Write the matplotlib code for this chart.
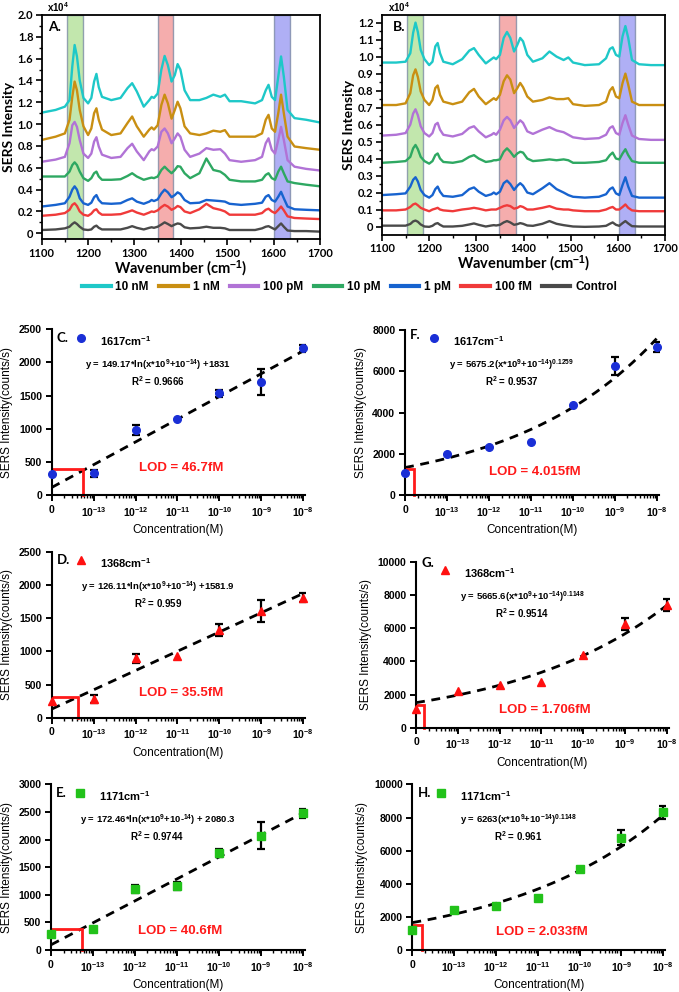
import numpy as np
import matplotlib
matplotlib.use('Agg')
import matplotlib.pyplot as plt
from matplotlib.lines import Line2D

plt.rcParams['font.family'] = ['Liberation Sans', 'DejaVu Sans']
plt.rcParams['font.weight'] = 'bold'
plt.rcParams['mathtext.fontset'] = 'custom'
plt.rcParams['mathtext.rm'] = 'Liberation Sans:bold'
plt.rcParams['mathtext.bf'] = 'Liberation Sans:bold'
plt.rcParams['mathtext.default'] = 'bf'

# ---------------- spectra (x10^4 counts) ----------------
wn = [1100, 1130, 1150, 1160, 1166, 1171, 1176, 1182, 1190, 1200,
      1207, 1213, 1218, 1223, 1230, 1250, 1270, 1285, 1295, 1305,
      1320, 1332, 1337, 1342, 1350, 1358, 1365, 1372, 1380, 1387,
      1393, 1399, 1408, 1420, 1440, 1455, 1470, 1485, 1495, 1505,
      1530, 1560, 1575, 1583, 1589, 1596, 1603, 1610, 1616, 1622,
      1630, 1645, 1670, 1700]

series_labels = ['10 nM', '1 nM', '100 pM', '10 pM', '1 pM', '100 fM', 'Control']
series_colors = ['#1ec8c8', '#c98f12', '#b173d6', '#2ea862', '#1763cf', '#f03a3a', '#4a4a4a']

a_10nM = [1.105, 1.13, 1.16, 1.22, 1.53, 1.725, 1.62, 1.40, 1.24, 1.19,
          1.24, 1.39, 1.46, 1.34, 1.25, 1.22, 1.24, 1.33, 1.375, 1.30,
          1.16, 1.22, 1.25, 1.24, 1.28, 1.50, 1.625, 1.54, 1.39, 1.45,
          1.55, 1.50, 1.31, 1.22, 1.22, 1.24, 1.27, 1.25, 1.27, 1.21,
          1.21, 1.19, 1.22, 1.31, 1.36, 1.25, 1.22, 1.435, 1.62, 1.435,
          1.13, 1.055, 1.04, 1.015]
a_1nM = [0.855, 0.885, 0.915, 1.04, 1.25, 1.39, 1.31, 1.13, 0.98, 0.90,
         0.96, 1.10, 1.145, 1.04, 0.95, 0.90, 0.915, 1.01, 1.07, 0.98,
         0.885, 0.95, 0.97, 0.95, 0.99, 1.175, 1.27, 1.19, 1.05, 1.13,
         1.205, 1.145, 0.98, 0.915, 0.90, 0.915, 0.94, 0.93, 0.945, 0.885,
         0.885, 0.885, 0.915, 1.04, 1.085, 0.96, 0.93, 1.10, 1.27, 1.10,
         0.885, 0.795, 0.78, 0.765]
a_100pM = [0.655, 0.675, 0.70, 0.825, 0.99, 1.02, 0.975, 0.855, 0.73, 0.69,
           0.73, 0.84, 0.88, 0.795, 0.72, 0.69, 0.70, 0.78, 0.82, 0.75,
           0.67, 0.75, 0.77, 0.76, 0.795, 0.93, 0.96, 0.915, 0.825, 0.87,
           0.915, 0.885, 0.765, 0.70, 0.73, 0.78, 0.765, 0.77, 0.73, 0.67,
           0.655, 0.67, 0.70, 0.825, 0.87, 0.765, 0.73, 0.855, 0.975, 0.855,
           0.67, 0.61, 0.59, 0.575]
a_10pM = [0.52, 0.52, 0.52, 0.565, 0.625, 0.65, 0.625, 0.565, 0.505, 0.48,
          0.505, 0.55, 0.565, 0.52, 0.49, 0.49, 0.495, 0.525, 0.55, 0.52,
          0.49, 0.505, 0.51, 0.505, 0.52, 0.58, 0.61, 0.58, 0.55, 0.58,
          0.615, 0.61, 0.55, 0.505, 0.55, 0.685, 0.58, 0.565, 0.535, 0.49,
          0.475, 0.475, 0.49, 0.535, 0.55, 0.505, 0.49, 0.565, 0.61, 0.55,
          0.475, 0.46, 0.445, 0.43]
a_1pM = [0.245, 0.26, 0.275, 0.335, 0.40, 0.43, 0.40, 0.32, 0.275, 0.26,
         0.28, 0.33, 0.35, 0.305, 0.275, 0.27, 0.275, 0.305, 0.32, 0.29,
         0.27, 0.29, 0.305, 0.295, 0.31, 0.365, 0.40, 0.375, 0.33, 0.35,
         0.375, 0.36, 0.305, 0.275, 0.28, 0.305, 0.30, 0.295, 0.29, 0.27,
         0.26, 0.27, 0.28, 0.335, 0.35, 0.305, 0.29, 0.335, 0.38, 0.32,
         0.245, 0.22, 0.215, 0.21]
a_100fM = [0.16, 0.17, 0.185, 0.215, 0.26, 0.275, 0.25, 0.20, 0.17, 0.16,
           0.18, 0.21, 0.22, 0.19, 0.17, 0.17, 0.175, 0.195, 0.21, 0.19,
           0.17, 0.19, 0.20, 0.195, 0.21, 0.24, 0.26, 0.245, 0.215, 0.23,
           0.25, 0.24, 0.20, 0.185, 0.22, 0.27, 0.23, 0.215, 0.20, 0.17,
           0.17, 0.17, 0.185, 0.215, 0.225, 0.20, 0.185, 0.215, 0.245, 0.21,
           0.155, 0.14, 0.135, 0.13]
a_control = [0.03, 0.035, 0.045, 0.06, 0.085, 0.10, 0.085, 0.06, 0.035, 0.03,
             0.035, 0.06, 0.07, 0.05, 0.035, 0.035, 0.035, 0.05, 0.065, 0.05,
             0.035, 0.05, 0.055, 0.05, 0.06, 0.08, 0.10, 0.085, 0.065, 0.08,
             0.09, 0.085, 0.055, 0.045, 0.05, 0.06, 0.05, 0.05, 0.045, 0.03,
             0.03, 0.03, 0.045, 0.06, 0.065, 0.05, 0.035, 0.065, 0.09, 0.06,
             0.025, 0.02, 0.02, 0.015]

b_10nM = [0.965, 0.965, 0.97, 1.02, 1.14, 1.20, 1.145, 1.04, 0.985, 0.95,
          0.97, 1.06, 1.08, 1.02, 0.97, 0.955, 0.985, 1.035, 1.05, 1.01,
          0.96, 0.985, 0.995, 0.985, 1.01, 1.11, 1.145, 1.11, 1.03, 1.07,
          1.11, 1.09, 1.01, 0.97, 0.99, 1.03, 1.00, 0.98, 0.995, 0.965,
          0.95, 0.955, 0.99, 1.045, 1.055, 1.01, 1.00, 1.12, 1.18, 1.11,
          0.98, 0.955, 0.95, 0.95]
b_1nM = [0.715, 0.715, 0.725, 0.785, 0.89, 0.925, 0.88, 0.795, 0.745, 0.715,
         0.745, 0.815, 0.83, 0.775, 0.735, 0.72, 0.735, 0.79, 0.81, 0.765,
         0.72, 0.745, 0.755, 0.745, 0.775, 0.855, 0.89, 0.865, 0.785, 0.815,
         0.845, 0.82, 0.765, 0.735, 0.745, 0.76, 0.75, 0.75, 0.755, 0.72,
         0.71, 0.715, 0.735, 0.80, 0.82, 0.765, 0.755, 0.845, 0.90, 0.835,
         0.735, 0.715, 0.715, 0.715]
b_100pM = [0.535, 0.54, 0.55, 0.60, 0.665, 0.69, 0.655, 0.59, 0.55, 0.53,
           0.55, 0.60, 0.61, 0.57, 0.54, 0.53, 0.545, 0.58, 0.59, 0.56,
           0.525, 0.54, 0.55, 0.54, 0.57, 0.625, 0.645, 0.625, 0.58, 0.605,
           0.625, 0.61, 0.56, 0.545, 0.57, 0.585, 0.565, 0.555, 0.54, 0.525,
           0.515, 0.52, 0.54, 0.58, 0.59, 0.55, 0.54, 0.61, 0.655, 0.60,
           0.535, 0.515, 0.51, 0.51]
b_10pM = [0.375, 0.38, 0.385, 0.41, 0.46, 0.48, 0.455, 0.41, 0.385, 0.37,
          0.385, 0.42, 0.43, 0.40, 0.38, 0.375, 0.385, 0.41, 0.42, 0.40,
          0.38, 0.385, 0.39, 0.39, 0.395, 0.44, 0.46, 0.44, 0.41, 0.43,
          0.44, 0.435, 0.40, 0.385, 0.39, 0.395, 0.39, 0.395, 0.39, 0.375,
          0.375, 0.38, 0.39, 0.42, 0.435, 0.40, 0.395, 0.43, 0.455, 0.42,
          0.385, 0.375, 0.375, 0.375]
b_1pM = [0.185, 0.19, 0.195, 0.235, 0.275, 0.29, 0.265, 0.215, 0.185, 0.17,
         0.185, 0.22, 0.235, 0.205, 0.18, 0.175, 0.185, 0.22, 0.23, 0.205,
         0.18, 0.19, 0.20, 0.19, 0.205, 0.255, 0.27, 0.25, 0.215, 0.24,
         0.255, 0.24, 0.20, 0.19, 0.225, 0.255, 0.22, 0.20, 0.185, 0.175,
         0.17, 0.175, 0.19, 0.22, 0.23, 0.195, 0.185, 0.245, 0.29, 0.235,
         0.18, 0.17, 0.17, 0.17]
b_100fM = [0.095, 0.095, 0.10, 0.115, 0.13, 0.135, 0.125, 0.11, 0.10, 0.09,
           0.10, 0.105, 0.11, 0.10, 0.095, 0.09, 0.10, 0.105, 0.11, 0.105,
           0.095, 0.10, 0.10, 0.10, 0.11, 0.12, 0.125, 0.12, 0.105, 0.11,
           0.12, 0.115, 0.10, 0.10, 0.11, 0.12, 0.105, 0.10, 0.10, 0.095,
           0.09, 0.09, 0.10, 0.11, 0.115, 0.10, 0.10, 0.115, 0.13, 0.11,
           0.095, 0.09, 0.09, 0.09]
b_control = [0.005, 0.005, 0.005, 0.015, 0.03, 0.035, 0.028, 0.012, 0.0, -0.002,
             0.004, 0.016, 0.02, 0.01, 0.0, 0.0, 0.004, 0.012, 0.018, 0.01,
             0.0, 0.006, 0.008, 0.006, 0.01, 0.024, 0.032, 0.024, 0.01, 0.014,
             0.02, 0.016, 0.006, 0.004, 0.016, 0.032, 0.016, 0.008, 0.004, 0.0,
             -0.002, 0.0, 0.004, 0.016, 0.024, 0.01, 0.004, 0.02, 0.032, 0.018,
             0.002, 0.0, 0.0, 0.0]

bands_a = [(1155, 1188, '#a9dd8a'), (1350, 1384, '#f28b8b'), (1600, 1635, '#8e8ef2')]
bands_b = [(1153, 1187, '#a9dd8a'), (1349, 1384, '#f28b8b'), (1603, 1637, '#8e8ef2')]

# ---------------- calibration panels ----------------
conc = [0, 1e-13, 1e-12, 1e-11, 1e-10, 1e-9, 1e-8]
conc_labels = ['0', '10$^{-13}$', '10$^{-12}$', '10$^{-11}$', '10$^{-10}$', '10$^{-9}$', '10$^{-8}$']

c_y = [317, 327, 981, 1147, 1534, 1705, 2213]
c_err = [0, 55, 80, 0, 58, 200, 50]
f_y = [1050, 1988, 2343, 2553, 4347, 6254, 7192]
f_err = [0, 0, 0, 0, 0, 430, 240]
d_y = [256, 281, 894, 929, 1320, 1607, 1807]
d_err = [0, 63, 70, 0, 88, 170, 70]
g_y = [1104, 2189, 2550, 2751, 4357, 6245, 7390]
g_err = [0, 0, 0, 0, 0, 370, 350]
e_y = [290, 380, 1105, 1165, 1751, 2071, 2476]
e_err = [0, 0, 80, 75, 75, 240, 80]
h_y = [1225, 2430, 2691, 3153, 4900, 6787, 8313]
h_err = [0, 0, 0, 0, 0, 460, 380]

# fitted curves quoted in the panels
c_fit = ('log', 149.17, 1831)
d_fit = ('log', 126.11, 1581.9)
e_fit = ('log', 172.46, 2080.3)
f_fit = ('pow', 5675.2, 0.1259)
g_fit = ('pow', 5665.6, 0.1148)
h_fit = ('pow', 6263, 0.1148)

# LOD guide (axis position, intensity)
c_lod = (0.74, 400)
d_lod = (0.635, 316)
e_lod = (0.73, 380)
f_lod = (0.21, 1244)
g_lod = (0.18, 1365)
h_lod = (0.22, 1526)


def draw_spectra(ax, series, bands, ylim, yticks, yminor, letter, lx):
    for lo, hi, col in bands:
        ax.axvspan(lo, hi, facecolor=col, alpha=0.7, edgecolor='#6f7f9c', lw=1.0, zorder=1)
    for ys, col in zip(series, series_colors):
        ax.plot(wn, ys, color=col, lw=1.7, zorder=2)
    ax.set_xlim(1100, 1700)
    ax.set_ylim(*ylim)
    ax.set_xticks(range(1100, 1701, 100))
    ax.set_xticks(range(1150, 1700, 100), minor=True)
    ax.set_yticks(yticks)
    ax.set_yticklabels(['0' if v == 0 else f'{v:.1f}' for v in yticks])
    ax.set_yticks(yminor, minor=True)
    for lab in ax.get_xticklabels() + ax.get_yticklabels():
        lab.set_family(['Lato', 'DejaVu Sans'])
        lab.set_fontsize(8)
        lab.set_weight('bold')
    ax.tick_params(which='major', length=4, width=1.2, pad=2)
    ax.tick_params(which='minor', length=2, width=1)
    for sp in ax.spines.values():
        sp.set_linewidth(1.3)
    ax.set_xlabel('Wavenumber (cm$^{-1}$)', family=['Lato', 'DejaVu Sans'], fontsize=10.5,
                  weight='bold', labelpad=0)
    ax.set_ylabel('SERS Intensity', family=['Lato', 'DejaVu Sans'], fontsize=10,
                  weight='bold', labelpad=2)
    ax.text(lx, 0.945, letter, transform=ax.transAxes, family=['Lato', 'DejaVu Sans'],
            fontsize=10, weight='bold', va='center')
    ax.text(0.02, 1.005, 'x10$^4$', transform=ax.transAxes, fontsize=7, va='bottom')


def draw_cal(ax, ys, errs, marker, color, ms, peak, eq, r2, fit, lod, lod_text, lod_ty,
             ymax, ystep, letter, letter_y):
    pos = [0 if c == 0 else np.log10(c) + 14 for c in conc]
    p = np.linspace(0, 6, 200)
    x_nm = 10.0 ** (p - 14) * 1e9
    if fit[0] == 'log':
        yfit = fit[1] * np.log(x_nm + 1e-14) + fit[2]
    else:
        yfit = fit[1] * (x_nm + 1e-14) ** fit[2]
    ax.plot(p, yfit, color='black', lw=2, dashes=(3.2, 2.4), zorder=2)
    ax.plot([0, lod[0], lod[0]], [lod[1], lod[1], 0], color='#ff1a1a', lw=2,
            zorder=2, clip_on=False, solid_joinstyle='miter')
    for x, y, e in zip(pos, ys, errs):
        if e > 0:
            ax.errorbar(x, y, yerr=e, fmt='none', ecolor='black', elinewidth=1.6,
                        capsize=3, capthick=1.6, zorder=3)
    ax.plot(pos, ys, ls='none', marker=marker, color=color, ms=ms, zorder=4, clip_on=False)

    ax.set_xlim(0, 6.05)
    ax.set_ylim(0, ymax)
    ax.set_xticks(pos)
    ax.set_xticklabels(conc_labels)
    ax.set_xticks([d + np.log10(k) for d in range(6) for k in range(2, 10)], minor=True)
    ax.set_yticks(np.arange(0, ymax + 1, ystep))
    ax.tick_params(axis='both', which='major', length=4, width=1.4, labelsize=7.5, pad=3)
    ax.tick_params(axis='x', which='minor', length=2.5, width=1)
    ax.spines['top'].set_visible(False)
    ax.spines['right'].set_visible(False)
    ax.spines['left'].set_linewidth(1.5)
    ax.spines['bottom'].set_linewidth(1.5)
    ax.set_xlabel('Concentration(M)', fontsize=8.5, labelpad=4)
    ax.set_ylabel('SERS Intensity(counts/s)', fontsize=8.5, labelpad=4)

    ax.text(0.02, letter_y, letter, transform=ax.transAxes, family=['Lato', 'DejaVu Sans'],
            fontsize=9.5, weight='bold', va='center')
    ax.plot([0.115], [0.95], transform=ax.transAxes, marker=marker, color=color, ms=ms,
            ls='none', clip_on=False)
    ax.text(0.19, 0.93, peak, transform=ax.transAxes, fontsize=8, va='center')
    ax.text(0.42, 0.785, eq, transform=ax.transAxes, fontsize=6.8, ha='center', va='center')
    ax.text(0.42, 0.69, r2, transform=ax.transAxes, fontsize=7, ha='center', va='center')
    ax.text(0.51, lod_ty, lod_text, transform=ax.transAxes, fontsize=9.5, color='#ff1a1a',
            ha='center', va='center')


fig = plt.figure(figsize=(6.79, 9.92), dpi=100)

ax_a = fig.add_axes([0.0614, 0.7588, 0.4099, 0.2261])
draw_spectra(ax_a, [a_10nM, a_1nM, a_100pM, a_10pM, a_1pM, a_100fM, a_control], bands_a,
             (-0.055, 2.0), np.round(np.arange(0, 2.01, 0.2), 1), np.arange(0.1, 2.0, 0.2),
             'A.', 0.023)
ax_b = fig.add_axes([0.5626, 0.7631, 0.4168, 0.2218])
draw_spectra(ax_b, [b_10nM, b_1nM, b_100pM, b_10pM, b_1pM, b_100fM, b_control], bands_b,
             (-0.05, 1.245), np.round(np.arange(0, 1.21, 0.1), 1), np.arange(0.05, 1.2, 0.1),
             'B.', 0.04)

handles = [Line2D([0], [0], color=c, lw=3) for c in series_colors]
fig.legend(handles, series_labels, loc='center', bbox_to_anchor=(0.515, 0.711), ncol=7,
           frameon=False, handlelength=2.4, columnspacing=0.9, handletextpad=0.4,
           borderpad=0.1, prop={'weight': 'bold', 'size': 8.5})

ax_c = fig.add_axes([0.0761, 0.5010, 0.3736, 0.1670])
draw_cal(ax_c, c_y, c_err, 'o', '#1a2fd6', 5.5, '1617cm$^{-1}$',
         'y = 149.17*ln(x*10$^{9}$+10$^{-14}$) +1831', 'R$^{2}$ = 0.9666', c_fit,
         c_lod, 'LOD = 46.7fM', 0.165, 2500, 500, 'C.', 0.95)
ax_f = fig.add_axes([0.5965, 0.5010, 0.3736, 0.1663])
draw_cal(ax_f, f_y, f_err, 'o', '#1a2fd6', 5.5, '1617cm$^{-1}$',
         'y = 5675.2(x*10$^{9}$+10$^{-14}$)$^{0.1259}$', 'R$^{2}$ = 0.9537', f_fit,
         f_lod, 'LOD = 4.015fM', 0.141, 8000, 2000, 'F.', 0.97)
ax_d = fig.add_axes([0.0761, 0.2765, 0.3736, 0.1673])
draw_cal(ax_d, d_y, d_err, '^', '#ff1010', 5.5, '1368cm$^{-1}$',
         'y = 126.11*ln(x*10$^{9}$+10$^{-14}$) +1581.9', 'R$^{2}$ = 0.959', d_fit,
         d_lod, 'LOD = 35.5fM', 0.147, 2500, 500, 'D.', 0.95)
ax_g = fig.add_axes([0.6127, 0.2664, 0.3726, 0.1673])
draw_cal(ax_g, g_y, g_err, '^', '#ff1010', 5.5, '1368cm$^{-1}$',
         'y = 5665.6(x*10$^{9}$+10$^{-14}$)$^{0.1148}$', 'R$^{2}$ = 0.9514', g_fit,
         g_lod, 'LOD = 1.706fM', 0.106, 10000, 2000, 'G.', 0.99)
ax_e = fig.add_axes([0.0751, 0.0423, 0.3736, 0.1670])
draw_cal(ax_e, e_y, e_err, 's', '#22c21a', 5.5, '1171cm$^{-1}$',
         'y = 172.46*ln(x*10$^{9}$+10-$^{14}$) + 2080.3', 'R$^{2}$ = 0.9744', e_fit,
         e_lod, 'LOD = 40.6fM', 0.115, 3000, 500, 'E.', 0.95)
ax_h = fig.add_axes([0.6073, 0.0420, 0.3726, 0.1673])
draw_cal(ax_h, h_y, h_err, 's', '#22c21a', 5.5, '1171cm$^{-1}$',
         'y = 6263(x*10$^{9}$+10$^{-14}$)$^{0.1148}$', 'R$^{2}$ = 0.961', h_fit,
         h_lod, 'LOD = 2.033fM', 0.113, 10000, 2000, 'H.', 0.95)

fig.savefig('out.png', dpi=100)
